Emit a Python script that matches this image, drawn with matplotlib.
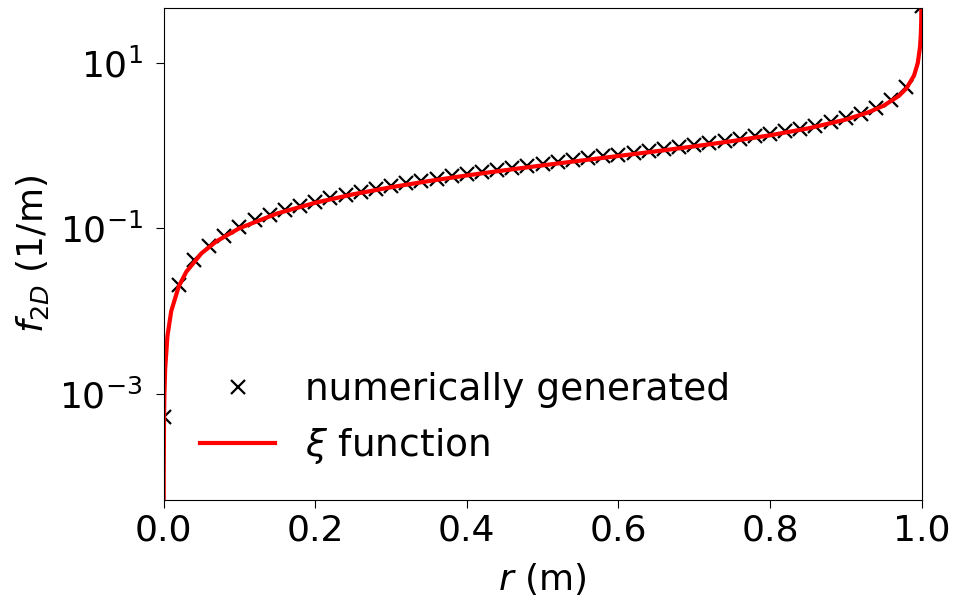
import matplotlib
matplotlib.use('Agg')
import matplotlib.pyplot as plt
from matplotlib.ticker import NullLocator

# numerically generated points (x markers)
r_num = [0.00, 0.02, 0.04, 0.06, 0.08, 0.10, 0.12, 0.14, 0.16, 0.18,
         0.20, 0.22, 0.24, 0.26, 0.28, 0.30, 0.32, 0.34, 0.36, 0.38,
         0.40, 0.42, 0.44, 0.46, 0.48, 0.50, 0.52, 0.54, 0.56, 0.58,
         0.60, 0.62, 0.64, 0.66, 0.68, 0.70, 0.72, 0.74, 0.76, 0.78,
         0.80, 0.82, 0.84, 0.86, 0.88, 0.90, 0.92, 0.94, 0.96, 0.98, 1.00]
f_num = [5.3e-4, 0.0205, 0.041, 0.062, 0.082, 0.104, 0.125, 0.146, 0.168, 0.189,
         0.211, 0.233, 0.256, 0.279, 0.302, 0.326, 0.350, 0.375, 0.400, 0.426,
         0.453, 0.480, 0.508, 0.538, 0.568, 0.599, 0.632, 0.666, 0.702, 0.740,
         0.779, 0.821, 0.866, 0.913, 0.964, 1.019, 1.079, 1.144, 1.216, 1.296,
         1.386, 1.489, 1.608, 1.750, 1.921, 2.140, 2.427, 2.846, 3.530, 5.08, 48.0]

# xi function curve
r_xi = [0.00001, 0.0001, 0.0005, 0.001, 0.002, 0.005, 0.01, 0.02, 0.03, 0.05, 0.07,
        0.1, 0.15, 0.2, 0.25, 0.3, 0.35, 0.4, 0.45, 0.5, 0.55,
        0.6, 0.65, 0.7, 0.75, 0.8, 0.85, 0.9, 0.93, 0.95, 0.97,
        0.98, 0.99, 0.995, 0.998, 0.999, 0.9995, 0.9999]
f_xi = [0.00001, 0.0001, 0.0005, 0.001, 0.002, 0.005, 0.0100, 0.0200, 0.0300, 0.0501, 0.0702,
        0.1005, 0.1517, 0.2041, 0.2582, 0.3145, 0.3736, 0.4364, 0.5039, 0.5774, 0.6586,
        0.75, 0.8553, 0.9802, 1.1339, 1.3333, 1.6136, 2.0647, 2.530, 3.0424, 3.990,
        4.925, 7.018, 9.962, 15.78, 22.34, 31.6, 70.7]

fs = 26
fig = plt.figure(figsize=(9.57, 5.99), dpi=100)
ax = fig.add_axes([0.171, 0.165, 0.792, 0.8216])

ax.plot(r_num, f_num, 'x', color='black', markersize=10, markeredgewidth=1.6,
        label='numerically generated')
ax.plot(r_xi, f_xi, '-', color='red', linewidth=3, label=r'$\xi$ function')

ax.set_yscale('log')
ax.set_xlim(0, 1)
ax.set_ylim(5.2e-5, 46)
ax.set_yticks([1e-3, 1e-1, 1e1])
ax.yaxis.set_minor_locator(NullLocator())
ax.set_xticks([0.0, 0.2, 0.4, 0.6, 0.8, 1.0])
ax.tick_params(labelsize=fs, length=6)
ax.tick_params(axis='y', pad=9)

ax.set_xlabel(r'$r$ (m)', fontsize=fs, labelpad=10)
ax.set_ylabel(r'$f_{2D}$ (1/m)', fontsize=fs, labelpad=6)

ax.legend(loc='lower left', bbox_to_anchor=(0.004, 0.0), frameon=False,
          fontsize=27, handlelength=2.0, labelspacing=0.5)

fig.savefig('out.png', dpi=100)
